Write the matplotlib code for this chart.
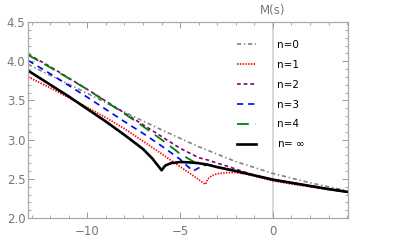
import numpy as np
import matplotlib.pyplot as plt
from matplotlib.ticker import MultipleLocator

plt.rcParams['lines.scale_dashes'] = False

# data (s, M(s)) for each n
s0 = [-13.2, -12, -10, -8, -6, -4, -2, 0, 2, 4]
m0 = [3.96, 3.82, 3.59, 3.35, 3.125, 2.91, 2.72, 2.57, 2.45, 2.35]

s1 = [-13.2, -12, -11, -10, -9, -8, -7, -6, -5, -4.5, -4, -3.64,
      -3.5, -3.3, -3, -2.5, -2, -1.5, -1, 0, 1, 2, 3, 4]
m1 = [3.80, 3.66, 3.535, 3.41, 3.28, 3.14, 2.98, 2.82, 2.655, 2.575, 2.49, 2.43,
      2.50, 2.54, 2.565, 2.58, 2.58, 2.565, 2.535, 2.475, 2.435, 2.40, 2.365, 2.33]

s2 = [-13.2, -12, -10, -8, -7, -6, -5, -4.5, -4, -3.5, -3, -2.5, -2, -1.5, -1, 0, 1, 2, 3, 4]
m2 = [4.09, 3.93, 3.64, 3.34, 3.19, 3.04, 2.89, 2.83, 2.77, 2.74, 2.70, 2.665,
      2.625, 2.585, 2.545, 2.49, 2.45, 2.41, 2.37, 2.335]

s3 = [-13.2, -12, -10, -8, -7, -6, -5, -4.6, -4.3, -4.0, -3.7, -3.5, -3, -2, -1, 0, 1, 2, 3, 4]
m3 = [4.01, 3.84, 3.54, 3.23, 3.08, 2.92, 2.75, 2.66, 2.60, 2.64, 2.67, 2.68,
      2.65, 2.60, 2.545, 2.49, 2.45, 2.41, 2.37, 2.335]

s4 = [-13.2, -12, -10, -8, -7, -6, -5, -4.5, -4.2, -4, -3.5, -3, -2, -1, 0, 1, 2, 3, 4]
m4 = [4.08, 3.92, 3.64, 3.33, 3.17, 3.00, 2.82, 2.75, 2.71, 2.70, 2.68, 2.65,
      2.60, 2.545, 2.49, 2.45, 2.41, 2.37, 2.335]

sinf = [-13.2, -12, -11, -10, -9, -8, -7, -6.5, -6.0, -5.8, -5.5, -5.0, -4.5,
        -4, -3.5, -3, -2, -1, 0, 1, 2, 3, 4]
minf = [3.88, 3.70, 3.55, 3.39, 3.23, 3.06, 2.88, 2.76, 2.61, 2.67, 2.70, 2.715, 2.71,
        2.70, 2.68, 2.65, 2.60, 2.545, 2.49, 2.45, 2.41, 2.37, 2.335]

labels = ['n=0', 'n=1', 'n=2', 'n=3', 'n=4', r'n= $\infty$']

fig = plt.figure(figsize=(3.95, 2.47), dpi=100)
ax = fig.add_axes([0.071, 0.117, 0.81, 0.794])

ax.axvline(0, color='#cccccc', lw=1.1, zorder=0)

ax.plot(s0, m0, color='gray', lw=1.2, dashes=[3, 2, 1, 2], label=labels[0])
ax.plot(s1, m1, color='red', lw=1.3, dashes=[1, 1], label=labels[1])
ax.plot(s2, m2, color='purple', lw=1.2, dashes=[2.7, 2.1], label=labels[2])
ax.plot(s3, m3, color='blue', lw=1.2, dashes=[4.5, 3.5], label=labels[3])
ax.plot(s4, m4, color='green', lw=1.3, dashes=[8.5, 5], label=labels[4])
ax.plot(sinf, minf, color='black', lw=1.9, label=labels[5])

ax.set_xlim(-13.2, 4.05)
ax.set_ylim(2.0, 4.5)

ax.xaxis.set_major_locator(MultipleLocator(5))
ax.xaxis.set_minor_locator(MultipleLocator(1))
ax.yaxis.set_major_locator(MultipleLocator(0.5))
ax.yaxis.set_minor_locator(MultipleLocator(0.1))
ax.tick_params(which='both', direction='in', top=True, right=True,
               color='#999999', labelcolor='#777777', labelsize=8.5)
ax.tick_params(which='major', length=4, width=0.7)
ax.tick_params(which='minor', length=2, width=0.6)
ax.tick_params(axis='x', pad=5)
ax.tick_params(axis='y', pad=2)
for sp in ax.spines.values():
    sp.set_color('#aaaaaa')
    sp.set_linewidth(0.9)

ax.text(0, 4.56, 'M(s)', ha='center', va='bottom', color='#777777', fontsize=8.5)

leg = ax.legend(loc='upper left', bbox_to_anchor=(0.64, 0.93), frameon=False,
                fontsize=7.5, handlelength=1.8, handletextpad=2.0,
                labelspacing=0.95, borderaxespad=0)

fig.savefig('out.png', dpi=100)
